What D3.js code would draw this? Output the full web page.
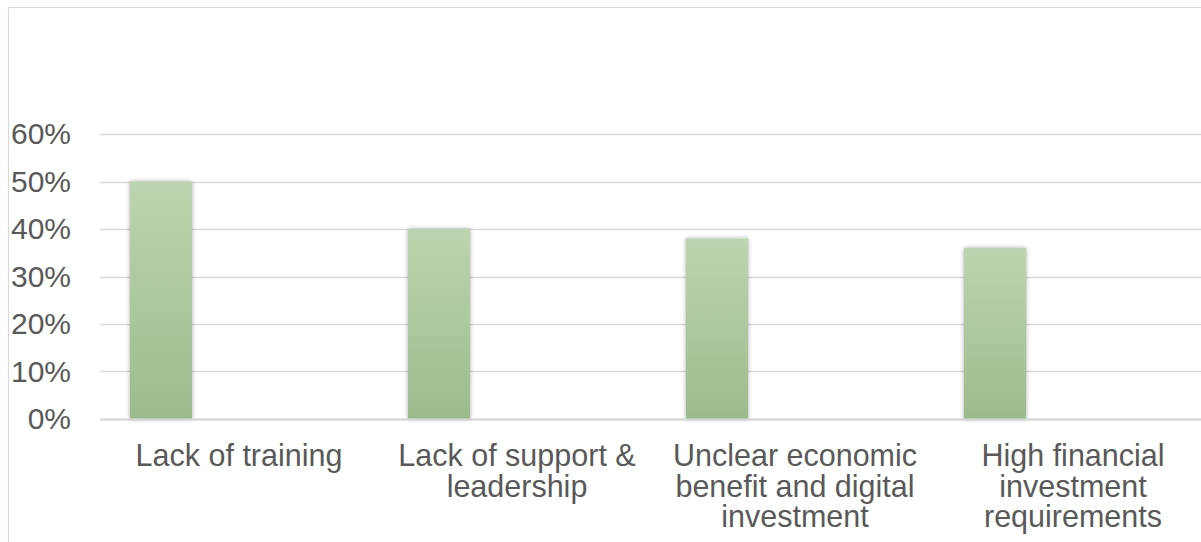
<!DOCTYPE html>
<html>
<head>
<meta charset="utf-8">
<script src="https://cdn.jsdelivr.net/npm/d3@7"></script>
<style>
  html, body { margin: 0; padding: 0; background: #fff; }
  svg { display: block; }
  text { font-family: "Liberation Sans", Arial, sans-serif; fill: #595959; }
</style>
</head>
<body>
<svg id="chart" width="1201" height="542"></svg>
<script>
// ---- data ----
const categories = [
  "Lack of training",
  "Lack of support &\nleadership",
  "Unclear economic\nbenefit and digital\ninvestment",
  "High financial\ninvestment\nrequirements"
];
const values = [0.50, 0.40, 0.38, 0.36];
const yTicks = [0, 0.1, 0.2, 0.3, 0.4, 0.5, 0.6];
const seriesSlots = ["s1", "s2", "s3", "s4"]; // clustered slots; only first carries data

// ---- layout ----
const W = 1201, H = 542;
const plot = { left: 100, right: 1212, top: 134, bottom: 419 };

const svg = d3.select("#chart");

const defs = svg.append("defs");
const grad = defs.append("linearGradient")
  .attr("id", "barGrad").attr("x1", 0).attr("y1", 0).attr("x2", 0).attr("y2", 1);
grad.append("stop").attr("offset", "0%").attr("stop-color", "#bcd5b0");
grad.append("stop").attr("offset", "100%").attr("stop-color", "#9cbb8d");

const filt = defs.append("filter").attr("id", "shadow")
  .attr("x", "-30%").attr("y", "-10%").attr("width", "160%").attr("height", "120%");
filt.append("feDropShadow").attr("dx", 0).attr("dy", 0)
  .attr("stdDeviation", 2.2).attr("flood-color", "#000").attr("flood-opacity", 0.35);

// outer chart border
svg.append("rect")
  .attr("x", 8.5).attr("y", 7.5).attr("width", 1400).attr("height", 800)
  .attr("fill", "none").attr("stroke", "#d9d9d9").attr("stroke-width", 1.2);

const y = d3.scaleLinear().domain([0, 0.6]).range([plot.bottom, plot.top]);
const x = d3.scaleBand().domain(categories).range([plot.left, plot.right]);
const xInner = d3.scaleBand().domain(seriesSlots).range([30, x.bandwidth()]);

// gridlines
svg.append("g")
  .selectAll("line")
  .data(yTicks)
  .join("line")
  .attr("x1", plot.left).attr("x2", W + 20)
  .attr("y1", d => Math.round(y(d)) + 0.5).attr("y2", d => Math.round(y(d)) + 0.5)
  .attr("stroke", "#d9d9d9").attr("stroke-width", d => d === 0 ? 2 : 1.5);

// y axis labels
const yAxis = d3.axisLeft(y).tickValues(yTicks).tickFormat(d3.format(".0%")).tickSize(0).tickPadding(0);
const yg = svg.append("g").attr("transform", `translate(${plot.left - 29},0)`).call(yAxis);
yg.select(".domain").remove();
yg.selectAll("text").attr("font-size", 30).style("fill", "#595959")
  .style("font-family", '"Liberation Sans", Arial, sans-serif');

// bars
svg.append("g")
  .selectAll("rect")
  .data(values)
  .join("rect")
  .attr("x", (d, i) => x(categories[i]) + xInner("s1"))
  .attr("width", xInner.bandwidth())
  .attr("y", d => y(d))
  .attr("height", d => y(0) - y(d))
  .attr("fill", "url(#barGrad)")
  .attr("filter", "url(#shadow)");

// redraw axis baseline over bars
svg.append("line")
  .attr("x1", plot.left).attr("x2", W + 20)
  .attr("y1", Math.round(y(0)) + 0.5).attr("y2", Math.round(y(0)) + 0.5)
  .attr("stroke", "#d9d9d9").attr("stroke-width", 2);

// x labels
const xl = svg.append("g");
categories.forEach(c => {
  const lines = c.split("\n");
  const t = xl.append("text")
    .attr("x", x(c) + x.bandwidth() / 2)
    .attr("y", 466)
    .attr("text-anchor", "middle")
    .attr("font-size", 30.5);
  lines.forEach((ln, i) => {
    t.append("tspan").attr("x", x(c) + x.bandwidth() / 2).attr("dy", i === 0 ? 0 : 30.5).text(ln);
  });
});
</script>
</body>
</html>
